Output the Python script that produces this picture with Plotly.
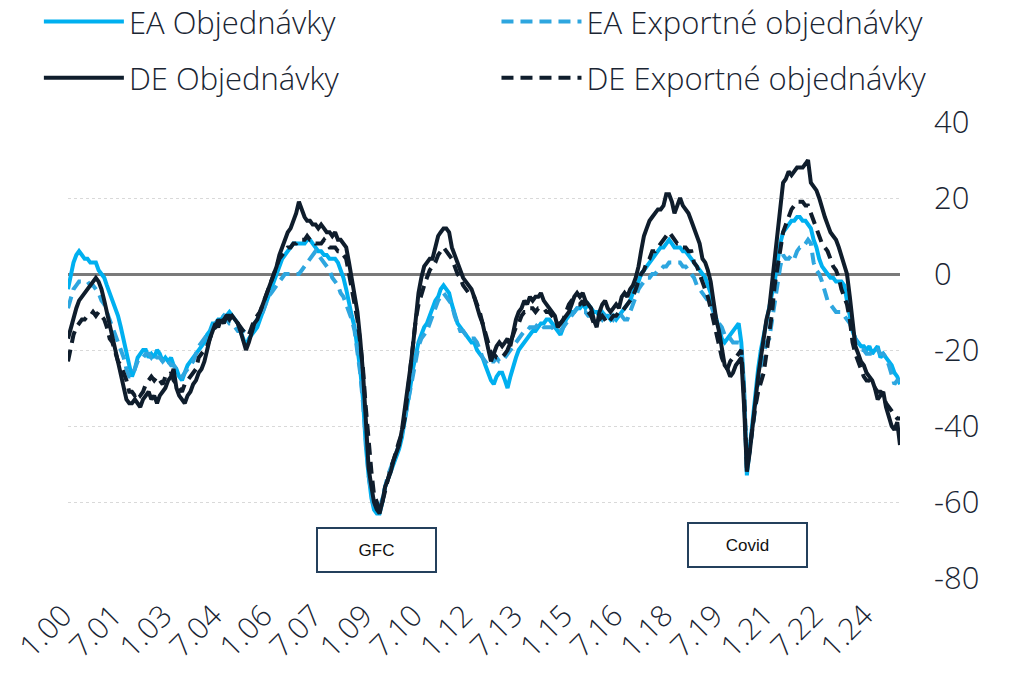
import pandas as pd
import plotly.graph_objects as go

dates = pd.date_range("2000-01-01", periods=300, freq="MS")

ea_orders = [
    -4, 0, 3, 5, 6, 5, 4, 4, 3, 3, 3, 1,
    0, -1, -3, -5, -7, -9, -11, -14, -17, -20, -24, -27,
    -25, -22, -21, -20, -20, -22, -21, -22, -20, -21, -23, -22,
    -23, -22, -24, -25, -27, -28, -26, -24, -23, -22, -21, -20,
    -19, -18, -16, -15, -13, -13, -12, -12, -11, -11, -10, -11,
    -12, -13, -15, -17, -19, -17, -16, -15, -14, -12, -10, -8,
    -6, -4, -2, 0, 2, 4, 5, 6, 7, 8, 8, 8,
    8, 8, 9, 9, 8, 7, 6, 6, 5, 5, 4, 4,
    4, 3, 1, -1, -4, -8, -11, -14, -19, -25, -33, -45,
    -53, -59, -62, -63, -63, -60, -56, -54, -52, -50, -48, -46,
    -43, -39, -34, -30, -25, -21, -18, -16, -14, -13, -11, -9,
    -7, -6, -4, -3, -4, -5, -8, -11, -13, -14, -15, -16,
    -17, -18, -18, -20, -21, -22, -24, -26, -28, -29, -27, -26,
    -26, -28, -30, -27, -24, -22, -20, -19, -18, -17, -16, -15,
    -15, -14, -13, -13, -12, -12, -13, -14, -15, -16, -14, -12,
    -11, -10, -10, -9, -9, -8, -9, -8, -9, -10, -10, -11,
    -10, -11, -11, -12, -11, -12, -11, -10, -9, -8, -7, -5,
    -3, -2, 0, 1, 2, 3, 4, 5, 6, 7, 7, 8,
    9, 8, 7, 7, 7, 6, 6, 5, 4, 3, 2, 1,
    0, -1, -3, -5, -9, -12, -15, -17, -18, -17, -16, -15,
    -14, -13, -18, -30, -53, -46, -38, -31, -25, -20, -16, -13,
    -9, -5, -2, 3, 8, 11, 12, 13, 14, 14, 15, 15,
    14, 14, 13, 12, 9, 7, 4, 2, 1, 0, -1, -1,
    -2, -2, -2, -3, -7, -11, -15, -17, -18, -19, -19, -20,
    -19, -21, -20, -19, -22, -21, -22, -23, -24, -26, -27, -29,
]

ea_export = [
    -9, -6, -4, -3, -2, -2, -2, -2, -3, -3, -4, -5,
    -7, -8, -10, -12, -14, -16, -18, -20, -22, -25, -27, -27,
    -25, -23, -22, -22, -21, -21, -22, -21, -22, -22, -23, -22,
    -23, -24, -24, -25, -26, -27, -26, -25, -24, -23, -21, -19,
    -18, -17, -16, -15, -14, -13, -12, -12, -11, -12, -13, -13,
    -14, -15, -15, -15, -14, -14, -14, -13, -12, -11, -10, -8,
    -6, -5, -4, -3, -2, -1, 0, 0, 0, 0, 0, 0,
    1, 2, 3, 4, 5, 6, 5, 4, 3, 2, 1, -1,
    -2, -3, -5, -6, -8, -10, -12, -15, -20, -26, -34, -45,
    -53, -58, -61, -62, -62, -59, -56, -53, -51, -49, -47, -45,
    -42, -38, -34, -30, -26, -22, -19, -17, -16, -15, -13, -11,
    -9, -7, -6, -5, -6, -7, -8, -11, -13, -15, -15, -16,
    -16, -17, -17, -18, -20, -22, -23, -24, -23, -23, -22, -23,
    -23, -22, -21, -20, -19, -18, -17, -16, -15, -15, -14, -14,
    -14, -13, -13, -14, -14, -14, -14, -15, -15, -15, -14, -13,
    -12, -11, -10, -9, -9, -10, -10, -11, -11, -12, -11, -11,
    -12, -11, -12, -11, -12, -11, -12, -11, -12, -12, -10, -8,
    -6, -4, -3, -2, -1, -1, 0, 0, 1, 1, 2, 2,
    3, 3, 3, 3, 3, 2, 2, 1, 0, -1, -3, -4,
    -5, -6, -7, -8, -10, -12, -13, -14, -16, -17, -17, -18,
    -18, -18, -19, -32, -52, -46, -40, -34, -28, -24, -21, -18,
    -17, -12, -8, -3, 2, 5, 4, 4, 5, 4, 6, 7,
    7, 8, 9, 8, 3, 1, 0, -2, -5, -7, -8, -9,
    -10, -10, -10, -11, -12, -13, -15, -17, -19, -20, -20, -21,
    -21, -21, -21, -20, -21, -21, -22, -24, -27, -29, -28, -28,
]

de_orders = [
    -17, -14, -11, -9, -7, -6, -5, -4, -3, -2, -1, -2,
    -4, -7, -10, -13, -16, -20, -23, -26, -29, -33, -34, -34,
    -33, -34, -35, -33, -32, -31, -33, -32, -34, -32, -31, -30,
    -28, -27, -25, -30, -32, -33, -34, -32, -31, -29, -28, -26,
    -25, -23, -20, -17, -15, -13, -14, -12, -13, -11, -12, -11,
    -12, -13, -15, -18, -20, -18, -15, -13, -12, -10, -8, -6,
    -4, -2, 0, 2, 5, 7, 9, 11, 12, 14, 16, 19,
    17, 15, 14, 14, 13, 13, 12, 13, 12, 11, 11, 10,
    11, 9, 9, 8, 7, 3, -1, -5, -10, -17, -26, -38,
    -51, -56, -60, -62, -63, -60, -56, -54, -52, -49, -47, -45,
    -41, -36, -31, -25, -19, -12, -5, -1, 2, 3, 4, 4,
    7, 10, 11, 12, 12, 11, 7, 5, 3, 1, -1, -2,
    -3, -4, -6, -9, -11, -13, -16, -20, -23, -21, -19, -18,
    -19, -18, -17, -19, -15, -12, -10, -9, -7, -8, -6, -7,
    -6, -6, -5, -7, -8, -9, -10, -11, -14, -13, -12, -11,
    -10, -8, -6, -5, -6, -5, -7, -8, -9, -12, -14, -10,
    -8, -7, -9, -10, -9, -8, -9, -6, -5, -6, -4, -3,
    -1, 2, 6, 10, 12, 14, 15, 16, 17, 17, 18, 21,
    21, 19, 16, 18, 20, 18, 17, 16, 14, 12, 10, 8,
    4, 3, 1, -2, -7, -12, -15, -20, -24, -25, -27, -26,
    -24, -23, -22, -35, -52, -47, -40, -33, -27, -22, -17, -12,
    -9, -2, 3, 10, 17, 24, 25, 27, 26, 27, 28, 28,
    28, 29, 30, 24, 23, 22, 20, 17, 15, 13, 11, 10,
    9, 7, 5, 2, 0, -6, -13, -19, -21, -23, -24, -26,
    -27, -28, -30, -33, -32, -31, -35, -38, -40, -41, -39, -45,
]

de_export = [
    -23, -19, -16, -14, -13, -12, -12, -11, -11, -10, -11, -10,
    -11, -12, -14, -17, -18, -21, -23, -24, -26, -28, -31, -31,
    -32, -31, -32, -31, -29, -28, -27, -28, -27, -28, -29, -27,
    -27, -26, -28, -29, -30, -31, -29, -28, -27, -26, -25, -22,
    -21, -20, -19, -17, -15, -14, -12, -13, -12, -11, -11, -12,
    -12, -13, -14, -15, -16, -16, -14, -12, -11, -10, -8, -6,
    -4, -2, 0, 2, 4, 5, 6, 7, 7, 8, 8, 9,
    9, 9, 10, 9, 9, 8, 8, 8, 9, 8, 7, 7,
    7, 6, 6, 5, 4, 0, -4, -8, -12, -18, -25, -35,
    -45, -52, -58, -60, -62, -60, -57, -54, -51, -49, -46, -44,
    -42, -38, -32, -25, -18, -12, -8, -5, -3, -1, 1, 2,
    3, 5, 6, 7, 6, 5, 4, 2, 0, -1, -3, -4,
    -5, -5, -6, -8, -10, -13, -16, -18, -21, -21, -22, -22,
    -22, -21, -20, -18, -16, -14, -13, -11, -10, -10, -9, -9,
    -10, -9, -9, -9, -10, -10, -11, -12, -13, -13, -12, -10,
    -8, -7, -7, -8, -8, -7, -9, -10, -11, -13, -12, -12,
    -11, -12, -13, -12, -11, -11, -10, -10, -9, -8, -7, -6,
    -4, -2, 0, 1, 3, 4, 6, 6, 7, 8, 9, 10,
    11, 10, 9, 8, 8, 7, 7, 6, 6, 3, 2, 0,
    -2, -4, -6, -9, -12, -16, -19, -22, -24, -25, -23, -22,
    -22, -21, -20, -32, -51, -46, -40, -35, -31, -28, -26, -21,
    -16, -10, -3, 2, 7, 11, 13, 15, 17, 18, 19, 19,
    19, 18, 18, 16, 14, 12, 10, 8, 7, 6, 4, 2,
    1, -1, -4, -6, -8, -12, -18, -21, -23, -25, -27, -28,
    -28, -29, -30, -31, -31, -32, -34, -35, -36, -37, -38, -38,
]

tick_dates = pd.date_range("2000-01-01", "2024-01-01", freq="18MS")
tick_labels = ["1.00", "7.01", "1.03", "7.04", "1.06", "7.07", "1.09", "7.10", "1.12",
               "7.13", "1.15", "7.16", "1.18", "7.19", "1.21", "7.22", "1.24"]
y_ticks = [-80, -60, -40, -20, 0, 20, 40]
y_labels = ["-80", "-60", "-40", "-20", "0", "20", "40"]

NAVY = "#0f1d2c"
CYAN = "#00b0f0"
LIGHT = "#2ea6df"
TEXT = "#1a2533"
FONT = "Open Sans"
DASH = "12px,7px"

fig = go.Figure()
fig.add_trace(go.Scatter(x=dates, y=ea_orders, mode="lines", name="EA Objednávky",
                         legend="legend", legendgroup="a",
                         line=dict(color=CYAN, width=4)))
fig.add_trace(go.Scatter(x=dates, y=ea_export, mode="lines", name="EA Exportné objednávky",
                         legend="legend2", legendgroup="c",
                         line=dict(color=LIGHT, width=4, dash=DASH)))
fig.add_trace(go.Scatter(x=dates, y=de_orders, mode="lines", name="DE Objednávky",
                         legend="legend", legendgroup="b",
                         line=dict(color=NAVY, width=4)))
fig.add_trace(go.Scatter(x=dates, y=de_export, mode="lines", name="DE Exportné objednávky",
                         legend="legend2", legendgroup="d",
                         line=dict(color=NAVY, width=4, dash=DASH)))

box = dict(showarrow=False, font=dict(family="Liberation Sans", size=17, color="#111111"),
           bordercolor="#24405c", borderwidth=2, borderpad=1, width=115, height=40,
           bgcolor="white", xref="x", yref="y")
fig.add_annotation(text="GFC", x="2009-04-01", y=-72.6, **box)
fig.add_annotation(text="Covid", x="2020-05-10", y=-71.3, **box)

legend_common = dict(orientation="v", yanchor="top", y=1.279, xanchor="left",
                     itemwidth=80, tracegroupgap=13, bgcolor="rgba(0,0,0,0)",
                     font=dict(family=FONT, size=31, color=TEXT, weight=300))

fig.update_layout(
    width=1012, height=675,
    margin=dict(l=68, r=112, t=122, b=97, autoexpand=False),
    paper_bgcolor="white", plot_bgcolor="white",
    font=dict(family=FONT, size=31, color=TEXT),
    showlegend=True,
    legend=dict(x=-0.035, **legend_common),
    legend2=dict(x=0.515, **legend_common),
    xaxis=dict(range=[dates[0], dates[-1]], tickvals=tick_dates, ticktext=tick_labels,
               tickangle=-45, showgrid=False, zeroline=False, showline=False,
               ticks="", ticklabelstandoff=13, ticklabelshift=-5,
               ticklabeloverflow="allow",
               tickfont=dict(family=FONT, size=30, color=TEXT, weight=300)),
    yaxis=dict(range=[-80, 40], side="right", tickvals=y_ticks, ticktext=y_labels,
               showgrid=True, gridcolor="#d9d9d9", griddash="dot", gridwidth=1,
               zeroline=True, zerolinecolor="#7a7a7a", zerolinewidth=2.5,
               showline=False, ticks="", ticklabelstandoff=33,
               tickfont=dict(family=FONT, size=31, color=TEXT, weight=300)),
)

# remove the browser's default 8px page margin so the figure fills the window
fig.write_html("out.html", config={"displayModeBar": False},
               post_script="document.body.style.margin='0';")
